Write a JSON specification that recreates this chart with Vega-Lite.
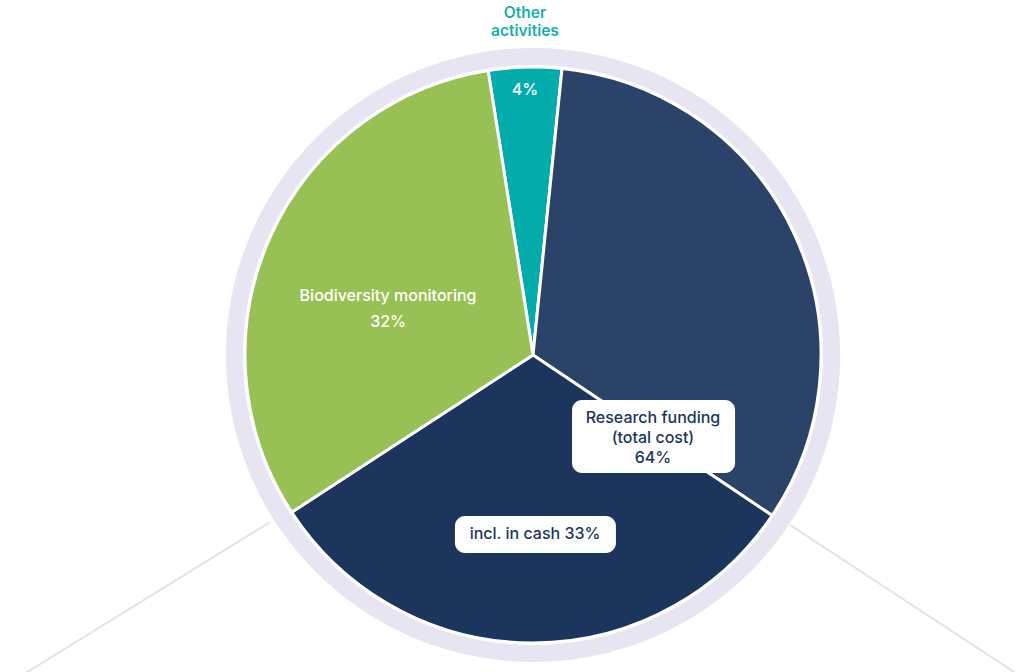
{
  "$schema": "https://vega.github.io/schema/vega-lite/v6.json",
  "width": 978,
  "height": 634,
  "autosize": {"type": "none"},
  "padding": {"left": 44, "top": 38, "right": 0, "bottom": 0},
  "background": "white",
  "config": {"view": {"stroke": null}, "font": "Inter"},
  "datasets": {
    "slices": [
      {"part": "Other activities", "share": 4.1, "ord": 1},
      {"part": "Research funding (non-cash)", "share": 32.8, "ord": 2},
      {"part": "Research funding (in cash)", "share": 31.4, "ord": 3},
      {"part": "Biodiversity monitoring", "share": 31.7, "ord": 4}
    ],
    "guides": [
      {"side": "left", "gx": -0.916, "gy": -0.582, "gx2": -1.787, "gy2": -1.12},
      {"side": "right", "gx": 0.895, "gy": -0.592, "gx2": 1.70, "gy2": -1.12}
    ],
    "boxes": [
      {"box": "Research funding", "bx": 0.136, "bx2": 0.704, "by": -0.157, "by2": -0.411},
      {"box": "incl. in cash", "bx": -0.272, "bx2": 0.289, "by": -0.561, "by2": -0.690}
    ],
    "whiteLabels": [
      {"label": "4%", "lx": -0.028, "ly": 0.923},
      {"label": "Biodiversity monitoring\n32%", "lx": -0.505, "ly": 0.2056}
    ],
    "boxLabels": [
      {"label": "Research funding\n(total cost)\n64%", "lx": 0.418, "ly": -0.2195},
      {"label": "incl. in cash 33%", "lx": 0.007, "ly": -0.624}
    ],
    "outerLabels": [
      {"label": "Other", "lx": -0.028, "ly": 1.1916},
      {"label": "activities", "lx": -0.028, "ly": 1.1289}
    ]
  },
  "layer": [
    {
      "data": {"name": "guides"},
      "mark": {"type": "rule", "color": "#e4e4e4", "strokeWidth": 2},
      "encoding": {
        "x": {"field": "gx", "type": "quantitative", "axis": null, "scale": {"domain": [-1.7038, 1.7038], "nice": false, "zero": false}},
        "y": {"field": "gy", "type": "quantitative", "axis": null, "scale": {"domain": [-1.1045, 1.1045], "nice": false, "zero": false}},
        "x2": {"field": "gx2"},
        "y2": {"field": "gy2"}
      }
    },
    {
      "data": {"values": [{"ring": "outer"}]},
      "mark": {"type": "arc", "theta": 0, "theta2": 6.2832, "innerRadius": 290, "outerRadius": 307, "color": "#e7e5f2"},
      "encoding": {}
    },
    {
      "data": {"name": "slices"},
      "mark": {"type": "arc", "outerRadius": 288, "stroke": "white", "strokeWidth": 3},
      "encoding": {
        "theta": {"field": "share", "type": "quantitative", "stack": true, "scale": {"range": [-0.1566, 6.1266]}},
        "order": {"field": "ord", "type": "quantitative"},
        "color": {
          "field": "part",
          "type": "nominal",
          "legend": null,
          "scale": {
            "domain": ["Other activities", "Research funding (non-cash)", "Research funding (in cash)", "Biodiversity monitoring"],
            "range": ["#04abab", "#2c4369", "#1b355d", "#97c154"]
          }
        }
      }
    },
    {
      "data": {"name": "boxes"},
      "mark": {"type": "rect", "fill": "white", "cornerRadius": 10},
      "encoding": {
        "x": {"field": "bx", "type": "quantitative", "axis": null, "scale": {"domain": [-1.7038, 1.7038], "nice": false, "zero": false}},
        "y": {"field": "by", "type": "quantitative", "axis": null, "scale": {"domain": [-1.1045, 1.1045], "nice": false, "zero": false}},
        "x2": {"field": "bx2"},
        "y2": {"field": "by2"}
      }
    },
    {
      "data": {"name": "whiteLabels"},
      "mark": {"type": "text", "color": "white", "fontSize": 16, "fontWeight": 500, "align": "center", "baseline": "middle", "lineBreak": "\n", "lineHeight": 26},
      "encoding": {
        "x": {"field": "lx", "type": "quantitative", "axis": null, "scale": {"domain": [-1.7038, 1.7038], "nice": false, "zero": false}},
        "y": {"field": "ly", "type": "quantitative", "axis": null, "scale": {"domain": [-1.1045, 1.1045], "nice": false, "zero": false}},
        "text": {"field": "label"}
      }
    },
    {
      "data": {"name": "boxLabels"},
      "mark": {"type": "text", "color": "#1b355d", "fontSize": 16, "fontWeight": 500, "align": "center", "baseline": "middle", "lineBreak": "\n", "lineHeight": 20},
      "encoding": {
        "x": {"field": "lx", "type": "quantitative", "axis": null, "scale": {"domain": [-1.7038, 1.7038], "nice": false, "zero": false}},
        "y": {"field": "ly", "type": "quantitative", "axis": null, "scale": {"domain": [-1.1045, 1.1045], "nice": false, "zero": false}},
        "text": {"field": "label"}
      }
    },
    {
      "data": {"name": "outerLabels"},
      "mark": {"type": "text", "color": "#13b0ad", "fontSize": 15.5, "fontWeight": 600, "align": "center", "baseline": "middle"},
      "encoding": {
        "x": {"field": "lx", "type": "quantitative", "axis": null, "scale": {"domain": [-1.7038, 1.7038], "nice": false, "zero": false}},
        "y": {"field": "ly", "type": "quantitative", "axis": null, "scale": {"domain": [-1.1045, 1.1045], "nice": false, "zero": false}},
        "text": {"field": "label"}
      }
    }
  ]
}
